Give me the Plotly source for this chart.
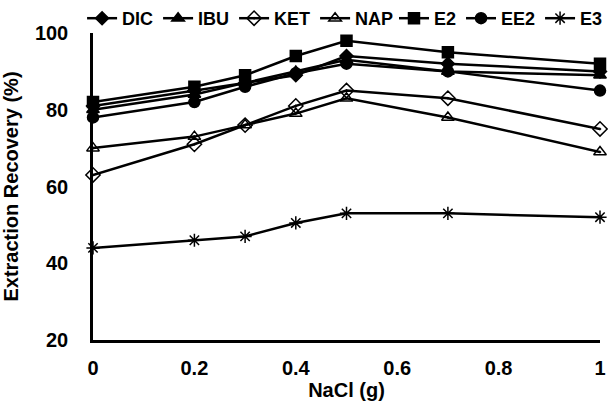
import plotly.graph_objects as go

nacl = [0, 0.2, 0.3, 0.4, 0.5, 0.7, 1.0]
DIC = [81, 85, 87, 89, 94, 92, 90]
IBU = [80, 84, 87, 90, 93, 90, 89]
KET = [63, 71, 76, 81, 85, 83, 75]
NAP = [70, 73, 76, 79, 83, 78, 69]
E2 = [82, 86, 89, 94, 98, 95, 92]
EE2 = [78, 82, 86, 89.5, 92, 90, 85]
E3 = [44, 46, 47, 50.5, 53, 53, 52]

series = [
    ("DIC", DIC, "diamond", 10, "legend"),
    ("IBU", IBU, "triangle-up", 11, "legend"),
    ("KET", KET, "diamond-open-dot", 11, "legend"),
    ("NAP", NAP, "triangle-up-open-dot", 11, "legend"),
    ("E2", E2, "square", 11, "legend2"),
    ("EE2", EE2, "circle", 11, "legend2"),
    ("E3", E3, "asterisk-open", 11, "legend2"),
]

font = "Liberation Sans, Arial, sans-serif"
fig = go.Figure()
for name, vals, sym, size, leg in series:
    fig.add_trace(go.Scatter(
        x=nacl, y=vals, name=name, mode="lines+markers", legend=leg,
        line=dict(color="black", width=2.5),
        marker=dict(symbol=sym, size=size, color="black",
                    line=dict(color="black", width=1.5)),
        cliponaxis=False,
    ))

legfont = dict(family=font, size=18, color="black", weight="bold")
fig.update_layout(
    width=608, height=407,
    margin=dict(l=93, r=8, t=33, b=67, autoexpand=False),
    paper_bgcolor="white", plot_bgcolor="white",
    font=dict(family=font, size=20, color="black"),
    showlegend=True,
    legend=dict(orientation="h", x=0.135, xref="container", xanchor="left",
                y=1.0, yref="container", yanchor="top",
                font=legfont, itemwidth=30, tracegroupgap=0,
                bgcolor="rgba(0,0,0,0)"),
    legend2=dict(orientation="h", x=1.0, xref="container", xanchor="right",
                 y=1.0, yref="container", yanchor="top",
                 font=legfont, itemwidth=30, tracegroupgap=0,
                 bgcolor="rgba(0,0,0,0)"),
    xaxis=dict(range=[0, 1], tickvals=[0, 0.2, 0.4, 0.6, 0.8, 1],
               ticktext=["0", "0.2", "0.4", "0.6", "0.8", "1"],
               showgrid=False, zeroline=False, showline=True,
               linecolor="black", linewidth=2.5, ticks="",
               ticklabelstandoff=8,
               tickfont=dict(size=20, weight="bold"),
               title=dict(text="NaCl (g)", standoff=6,
                          font=dict(size=20, weight="bold"))),
    yaxis=dict(range=[20, 100], tickvals=[20, 40, 60, 80, 100],
               showgrid=False, zeroline=False, showline=True,
               linecolor="black", linewidth=2.5, ticks="",
               ticklabelstandoff=18,
               tickfont=dict(size=20, weight="bold"),
               title=dict(text="Extraction Recovery (%)", standoff=12,
                          font=dict(size=20, weight="bold"))),
)

fig.write_html("out.html", config={"displayModeBar": False},
               post_script="document.body.style.margin='0';")
